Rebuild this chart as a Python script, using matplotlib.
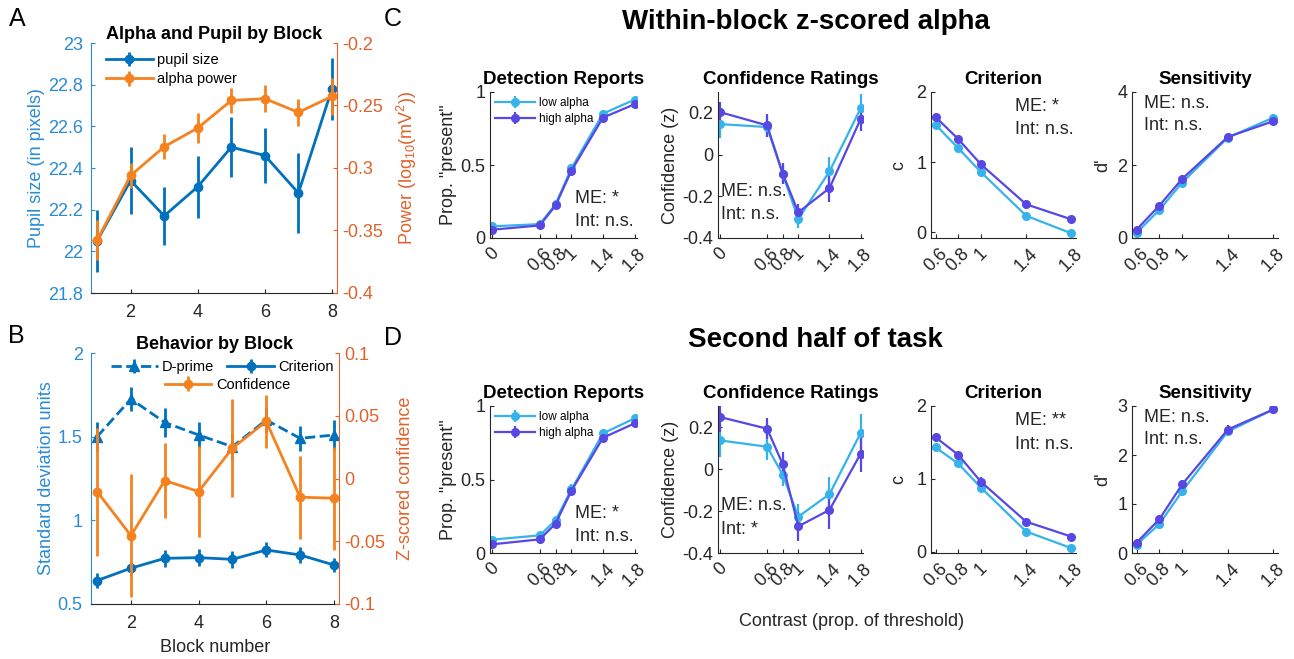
import numpy as np
import matplotlib
matplotlib.use('Agg')
import matplotlib.pyplot as plt

plt.rcParams['font.family'] = ['Liberation Sans', 'DejaVu Sans']
plt.rcParams['mathtext.fontset'] = 'custom'
plt.rcParams['mathtext.rm'] = 'Liberation Sans'

W, H = 1294, 659
fig = plt.figure(figsize=(W / 100, H / 100), dpi=100)

# ---------------- data ----------------
blocks = [1, 2, 3, 4, 5, 6, 7, 8]
pupil = [22.05, 22.34, 22.17, 22.31, 22.50, 22.46, 22.28, 22.78]
pupil_err = [0.15, 0.16, 0.14, 0.15, 0.145, 0.13, 0.19, 0.15]
alpha_pow = [-0.358, -0.306, -0.283, -0.268, -0.246, -0.2445, -0.2555, -0.2427]
alpha_err = [0.016, 0.010, 0.010, 0.012, 0.010, 0.011, 0.011, 0.015]

dprime = [1.50, 1.725, 1.585, 1.51, 1.44, 1.60, 1.49, 1.51]
dprime_err = [0.085, 0.07, 0.085, 0.08, 0.08, 0.07, 0.075, 0.09]
criterion = [0.64, 0.714, 0.773, 0.777, 0.767, 0.823, 0.793, 0.733]
criterion_err = [0.045, 0.04, 0.05, 0.05, 0.05, 0.045, 0.05, 0.04]
confidence = [-0.0104, -0.0455, -0.0016, -0.0104, 0.0242, 0.0455, -0.0149, -0.0157]
confidence_err = [0.051, 0.049, 0.030, 0.036, 0.039, 0.021, 0.033, 0.041]

contrast_all = [0, 0.6, 0.8, 1, 1.4, 1.8]
contrast_sdt = [0.6, 0.8, 1, 1.4, 1.8]
contrast_ticks_all = ['0', '0.6', '0.8', '1', '1.4', '1.8']
contrast_ticks_sdt = ['0.6', '0.8', '1', '1.4', '1.8']

# C: within-block z-scored alpha
c_det_low = [0.080, 0.095, 0.232, 0.477, 0.852, 0.948]
c_det_high = [0.057, 0.086, 0.223, 0.461, 0.825, 0.916]
c_det_err = [0.015, 0.015, 0.02, 0.03, 0.025, 0.02]
c_conf_low = [0.146, 0.132, -0.093, -0.309, -0.081, 0.222]
c_conf_high = [0.203, 0.140, -0.091, -0.277, -0.161, 0.171]
c_conf_err_low = [0.065, 0.05, 0.05, 0.045, 0.07, 0.07]
c_conf_err_high = [0.05, 0.055, 0.05, 0.04, 0.065, 0.06]
c_crit_low = [1.535, 1.20, 0.86, 0.237, -0.014]
c_crit_high = [1.645, 1.33, 0.97, 0.40, 0.185]
c_crit_err = [0.06, 0.05, 0.05, 0.06, 0.05]
c_sens_low = [0.14, 0.77, 1.52, 2.75, 3.30]
c_sens_high = [0.23, 0.89, 1.62, 2.77, 3.20]
c_sens_err = [0.08, 0.08, 0.1, 0.1, 0.1]

# D: second half of task
d_det_low = [0.091, 0.120, 0.223, 0.432, 0.814, 0.916]
d_det_high = [0.059, 0.093, 0.200, 0.423, 0.784, 0.882]
d_det_err = [0.015, 0.015, 0.02, 0.035, 0.025, 0.02]
d_conf_low = [0.136, 0.106, -0.027, -0.227, -0.120, 0.172]
d_conf_high = [0.247, 0.192, 0.023, -0.273, -0.195, 0.073]
d_conf_err_low = [0.08, 0.065, 0.055, 0.06, 0.08, 0.09]
d_conf_err_high = [0.07, 0.05, 0.06, 0.07, 0.09, 0.085]
d_crit_low = [1.43, 1.21, 0.88, 0.275, 0.046]
d_crit_high = [1.57, 1.33, 0.96, 0.41, 0.205]
d_crit_err = [0.06, 0.05, 0.06, 0.05, 0.05]
d_sens_low = [0.17, 0.59, 1.26, 2.48, 2.93]
d_sens_high = [0.21, 0.69, 1.40, 2.52, 2.93]
d_sens_err = [0.08, 0.09, 0.1, 0.1, 0.1]

# ---------------- style ----------------
blue = '#0072BD'
blue_ax = '#2a8bd3'
orange = '#F5821F'
orange_ax = '#E0622A'
low_c = '#35B3EA'
high_c = '#5747E3'
dark = '#262626'


def ax_at(x0, y0, x1, y1):
    return fig.add_axes([x0 / W, 1 - y1 / H, (x1 - x0) / W, (y1 - y0) / H])


def style(ax, color=dark, fs=13):
    ax.spines['top'].set_visible(False)
    ax.spines['right'].set_visible(False)
    for s in ['left', 'bottom']:
        ax.spines[s].set_color(color)
        ax.spines[s].set_linewidth(0.8)
    ax.tick_params(direction='in', length=3, labelsize=fs, colors=color, width=0.8)


# ---------------- Panel A ----------------
axA = ax_at(91, 43, 337, 293)
style(axA)
axA.spines['left'].set_color(blue_ax)
axA.tick_params(axis='y', colors=blue_ax, pad=6)
axA.tick_params(axis='x', colors=dark, pad=8)
hp = axA.errorbar(blocks, pupil, yerr=pupil_err, color=blue, lw=2, marker='o', ms=6, capsize=0, elinewidth=2)
axA.set_xlim(0.82, 8.15)
axA.set_ylim(21.8, 23)
axA.set_xticks([2, 4, 6, 8])
axA.set_yticks([21.8, 22, 22.2, 22.4, 22.6, 22.8, 23])
axA.set_yticklabels(['21.8', '22', '22.2', '22.4', '22.6', '22.8', '23'])
axA.set_ylabel('Pupil size (in pixels)', color=blue_ax, fontsize=13, labelpad=2)
axA.set_title('Alpha and Pupil by Block', fontsize=13, fontweight='bold', pad=3)

axA2 = axA.twinx()
axA2.spines['top'].set_visible(False)
axA2.spines['left'].set_visible(False)
axA2.spines['bottom'].set_visible(False)
axA2.spines['right'].set_color(orange_ax)
axA2.tick_params(direction='in', length=3, labelsize=13, colors=orange_ax)
ha = axA2.errorbar(blocks, alpha_pow, yerr=alpha_err, color=orange, lw=2, marker='o', ms=6, capsize=0, elinewidth=2)
axA2.set_ylim(-0.4, -0.2)
axA2.set_yticks([-0.4, -0.35, -0.3, -0.25, -0.2])
axA2.set_yticklabels(['-0.4', '-0.35', '-0.3', '-0.25', '-0.2'])
axA2.set_ylabel(r'Power (log$_{10}$(mV$^2$))', color=orange_ax, fontsize=13, labelpad=9)
axA2.legend([hp, ha], ['pupil size', 'alpha power'], loc='upper left', frameon=False,
            fontsize=10.5, handlelength=3.2, borderaxespad=0.3, handletextpad=0.3, labelspacing=0.35,
            bbox_to_anchor=(0.02, 1.0))

# ---------------- Panel B ----------------
axB = ax_at(91, 353, 339, 604)
style(axB)
axB.spines['left'].set_color(blue_ax)
axB.tick_params(axis='y', colors=blue_ax, pad=6)
axB.tick_params(axis='x', colors=dark, pad=8)
hd = axB.errorbar(blocks, dprime, yerr=dprime_err, color=blue, lw=2, ls='--', marker='^', ms=7,
                  capsize=0, elinewidth=2)
hc = axB.errorbar(blocks, criterion, yerr=criterion_err, color=blue, lw=2, marker='o', ms=6,
                  capsize=0, elinewidth=2)
axB.set_xlim(0.82, 8.15)
axB.set_ylim(0.5, 2)
axB.set_xticks([2, 4, 6, 8])
axB.set_yticks([0.5, 1, 1.5, 2])
axB.set_yticklabels(['0.5', '1', '1.5', '2'])
axB.set_ylabel('Standard deviation units', color=blue_ax, fontsize=13, labelpad=2)
axB.set_xlabel('Block number', fontsize=13, color=dark, labelpad=5)
axB.set_title('Behavior by Block', fontsize=13, fontweight='bold', pad=3)
axB.legend([hd, hc], ['D-prime', 'Criterion'], loc='upper center', ncol=2, frameon=False, fontsize=10.5,
           handlelength=3.2, borderaxespad=0.1, handletextpad=0.3, columnspacing=0.9,
           bbox_to_anchor=(0.53, 1.0))

axB2 = axB.twinx()
axB2.spines['top'].set_visible(False)
axB2.spines['left'].set_visible(False)
axB2.spines['bottom'].set_visible(False)
axB2.spines['right'].set_color(orange_ax)
axB2.tick_params(direction='in', length=3, labelsize=13, colors=orange_ax)
hf = axB2.errorbar(blocks, confidence, yerr=confidence_err, color=orange, lw=2, marker='o', ms=6,
                   capsize=0, elinewidth=2)
axB2.set_ylim(-0.1, 0.1)
axB2.set_yticks([-0.1, -0.05, 0, 0.05, 0.1])
axB2.set_yticklabels(['-0.1', '-0.05', '0', '0.05', '0.1'])
axB2.set_ylabel('Z-scored confidence', color=orange_ax, fontsize=13, labelpad=9)
axB2.legend([hf], ['Confidence'], loc='upper center', frameon=False, fontsize=10.5,
            handlelength=3.2, handletextpad=0.3, bbox_to_anchor=(0.55, 0.93), borderaxespad=0.1)


# ---------------- Panels C & D ----------------
def pair(ax, x, low, high, elow, ehigh):
    l1 = ax.errorbar(x, low, yerr=elow, color=low_c, lw=1.6, marker='o', ms=5.5, capsize=0, elinewidth=1.6)
    l2 = ax.errorbar(x, high, yerr=ehigh, color=high_c, lw=1.6, marker='o', ms=5.5, capsize=0, elinewidth=1.6)
    return l1, l2


def xaxis_all(ax):
    ax.set_xlim(-0.03, 1.83)
    ax.set_xticks(contrast_all)
    ax.set_xticklabels(contrast_ticks_all, rotation=45, ha='center', va='top')
    ax.tick_params(axis='x', pad=5)


def xaxis_sdt(ax):
    ax.set_xlim(0.56, 1.84)
    ax.set_xticks(contrast_sdt)
    ax.set_xticklabels(contrast_ticks_sdt, rotation=45, ha='center', va='top')
    ax.tick_params(axis='x', pad=5)


def stats(ax, x, y1, y2, s1, s2):
    ax.text(x, y1, s1, transform=ax.transAxes, fontsize=13, color=dark, va='center')
    ax.text(x, y2, s2, transform=ax.transAxes, fontsize=13, color=dark, va='center')


rows = [
    (92, 238, c_det_low, c_det_high, c_det_err, c_conf_low, c_conf_high, c_conf_err_low, c_conf_err_high,
     c_crit_low, c_crit_high, c_crit_err, c_sens_low, c_sens_high, c_sens_err,
     'ME: *', 'Int: n.s.', 'ME: *', -0.08, [0, 2, 4]),
    (406, 553, d_det_low, d_det_high, d_det_err, d_conf_low, d_conf_high, d_conf_err_low, d_conf_err_high,
     d_crit_low, d_crit_high, d_crit_err, d_sens_low, d_sens_high, d_sens_err,
     'ME: *', 'Int: *', 'ME: **', -0.02, [0, 1, 2, 3]),
]

for (y0, y1, dl, dh, de, cl, ch, cel, ceh, rl, rh, re, sl, sh, se,
     det_me, conf_int, crit_me, crit_lo, sens_ticks) in rows:
    ax1 = ax_at(490, y0, 637, y1)
    style(ax1)
    h1, h2 = pair(ax1, contrast_all, dl, dh, de, de)
    xaxis_all(ax1)
    ax1.set_ylim(0, 1)
    ax1.set_yticks([0, 0.5, 1])
    ax1.set_yticklabels(['0', '0.5', '1'])
    ax1.set_ylabel('Prop. "present"', fontsize=13, color=dark, labelpad=2)
    ax1.set_title('Detection Reports', fontsize=13.5, fontweight='bold', pad=6)
    ax1.legend([h1, h2], ['low alpha', 'high alpha'], loc='upper left', frameon=False, fontsize=8.5,
               handlelength=3.4, borderaxespad=0.05, handletextpad=0.3, labelspacing=0.35)
    stats(ax1, 0.58, 0.27, 0.11, det_me, 'Int: n.s.')

    ax2 = ax_at(718, y0, 863, y1)
    style(ax2)
    pair(ax2, contrast_all, cl, ch, cel, ceh)
    xaxis_all(ax2)
    ax2.set_ylim(-0.4, 0.3)
    ax2.set_yticks([-0.4, -0.2, 0, 0.2])
    ax2.set_yticklabels(['-0.4', '-0.2', '0', '0.2'])
    ax2.set_ylabel('Confidence (z)', fontsize=13, color=dark, labelpad=2)
    ax2.set_title('Confidence Ratings', fontsize=13.5, fontweight='bold', pad=6)
    stats(ax2, 0.02, 0.32, 0.16, 'ME: n.s.', conf_int)

    ax3 = ax_at(931, y0, 1076, y1)
    style(ax3)
    pair(ax3, contrast_sdt, rl, rh, re, re)
    xaxis_sdt(ax3)
    ax3.set_ylim(crit_lo, 2)
    ax3.set_yticks([0, 1, 2])
    ax3.set_ylabel('c', fontsize=13, color=dark, labelpad=6)
    ax3.set_title('Criterion', fontsize=13.5, fontweight='bold', pad=6)
    stats(ax3, 0.58, 0.90, 0.74, crit_me, 'Int: n.s.')

    ax4 = ax_at(1132, y0, 1278, y1)
    style(ax4)
    pair(ax4, contrast_sdt, sl, sh, se, se)
    xaxis_sdt(ax4)
    ax4.set_ylim(0, sens_ticks[-1])
    ax4.set_yticks(sens_ticks)
    ax4.set_ylabel("d'", fontsize=13, color=dark, labelpad=4)
    ax4.set_title('Sensitivity', fontsize=13.5, fontweight='bold', pad=6)
    stats(ax4, 0.08, 0.92, 0.77, 'ME: n.s.', 'Int: n.s.')

# ---------------- figure text ----------------
fig.text(806 / W, 1 - 22 / H, 'Within-block z-scored alpha', fontsize=20, fontweight='bold', ha='center', va='center')
fig.text(815 / W, 1 - 340 / H, 'Second half of task', fontsize=20, fontweight='bold', ha='center', va='center')
fig.text(852 / W, 1 - 622 / H, 'Contrast (prop. of threshold)', fontsize=13, color=dark, ha='center', va='center')
for lab, x, y in [('A', 17, 19), ('B', 16, 336), ('C', 393, 19), ('D', 393, 338)]:
    fig.text(x / W, 1 - y / H, lab, fontsize=18, ha='center', va='center')

fig.savefig('out.png', dpi=100, facecolor='white')
